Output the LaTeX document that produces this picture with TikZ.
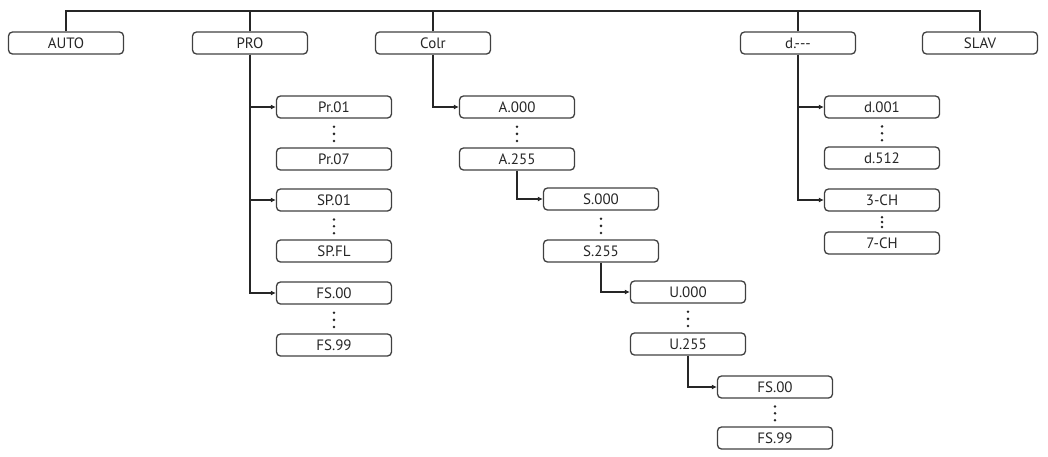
\documentclass[tikz,border=0pt]{standalone}
\usepackage{fontspec}
\setmainfont{PT Sans}
\usetikzlibrary{arrows.meta,calc}
\definecolor{ln}{HTML}{262626}
\definecolor{bx}{HTML}{404040}
\tikzset{
  box/.style={draw=bx, line width=1.3pt, rounded corners=4pt, minimum width=115pt,
    minimum height=22pt, inner sep=0pt, font=\fontsize{15}{16}\selectfont, text=ln},
  wire/.style={draw=ln, line width=1.2pt},
  arr/.style={wire, -{Latex[length=5pt,width=5pt]}}
}
\newcommand{\mydots}[2]{%
  \foreach \p in {0.28,0.53,0.78}{\fill[ln] ($(#1.south)!\p!(#2.north)$) circle (1.4pt);}}
\begin{document}
\begin{tikzpicture}[x=1pt,y=-1pt]
\useasboundingbox (0,0) rectangle (1048,456);
% top row
\node[box] (auto) at (66,43) {AUTO};
\node[box] (pro) at (250,43) {PRO};
\node[box] (colr) at (433,43) {Colr};
\node[box] (dd) at (798,43) {d.-{}-{}-};
\node[box] (slav) at (980,43) {SLAV};
\coordinate (bus) at (0,11);
\draw[wire] (auto.north) -- (auto.north |- bus) -- (slav.north |- bus) -- (slav.north);
\draw[wire] (pro.north) -- (pro.north |- bus);
\draw[wire] (colr.north) -- (colr.north |- bus);
\draw[wire] (dd.north) -- (dd.north |- bus);
% PRO
\node[box] (pr01) at (334,107) {Pr.01};
\node[box] (pr07) at (334,159) {Pr.07};
\node[box] (sp01) at (334,200) {SP.01};
\node[box] (spfl) at (334,251) {SP.FL};
\node[box] (fsa) at (334,293) {FS.00};
\node[box] (fsb) at (334,345) {FS.99};
\draw[arr] (pro.south) |- (pr01.west);
\draw[arr] (pro.south) |- (sp01.west);
\draw[arr] (pro.south) |- (fsa.west);
\mydots{pr01}{pr07}
\mydots{sp01}{spfl}
\mydots{fsa}{fsb}
% Colr
\node[box] (a0) at (517,107) {A.000};
\node[box] (a2) at (517,159) {A.255};
\node[box] (s0) at (601,199) {S.000};
\node[box] (s2) at (601,251) {S.255};
\node[box] (u0) at (688,292) {U.000};
\node[box] (u2) at (688,344) {U.255};
\node[box] (fc) at (775,387) {FS.00};
\node[box] (fd) at (775,438) {FS.99};
\draw[arr] (colr.south) |- (a0.west);
\draw[arr] (a2.south) |- (s0.west);
\draw[arr] (s2.south) |- (u0.west);
\draw[arr] (u2.south) |- (fc.west);
\mydots{a0}{a2}
\mydots{s0}{s2}
\mydots{u0}{u2}
\mydots{fc}{fd}
% d.---
\node[box] (d1) at (882,107) {d.001};
\node[box] (d5) at (882,158) {d.512};
\node[box] (c3) at (882,200) {3-CH};
\node[box] (c7) at (882,243) {7-CH};
\draw[arr] (dd.south) |- (d1.west);
\draw[arr] (dd.south) |- (c3.west);
\mydots{d1}{d5}
\mydots{c3}{c7}
\end{tikzpicture}
\end{document}
